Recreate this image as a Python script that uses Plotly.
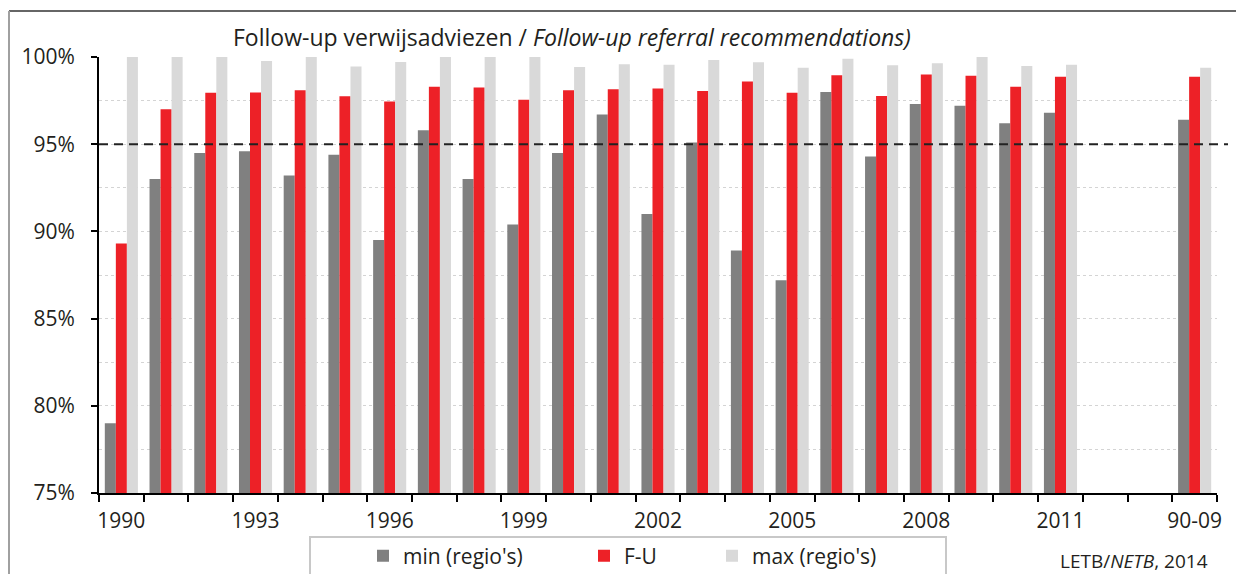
import plotly.graph_objects as go

categories = [str(y) for y in range(1990, 2014)] + ["90-09"]
tick_labels = ["1990", "", "", "1993", "", "", "1996", "", "", "1999", "", "", "2002", "", "", "2005", "", "",
               "2008", "", "", "2011", "", "", "90-09"]
y_tick_values = [75, 80, 85, 90, 95, 100]
y_tick_labels = ["75%", "80%", "85%", "90%", "95%", "100%"]

min_regio = [79.0, 93.0, 94.5, 94.6, 93.2, 94.4, 89.5, 95.8, 93.0, 90.4, 94.5, 96.7, 91.0, 95.1,
             88.9, 87.2, 98.0, 94.3, 97.3, 97.2, 96.2, 96.8, None, None, 96.4]
fu = [89.3, 97.0, 97.95, 97.97, 98.1, 97.75, 97.45, 98.3, 98.25, 97.55, 98.1, 98.15, 98.2, 98.05,
      98.6, 97.95, 98.95, 97.77, 99.0, 98.93, 98.3, 98.87, None, None, 98.87]
max_regio = [100, 100, 100, 99.77, 100, 99.45, 99.72, 100, 100, 100, 99.42, 99.58, 99.55, 99.83,
             99.7, 99.38, 99.9, 99.52, 99.64, 100, 99.48, 99.55, None, None, 99.38]

series_names = ["min (regio's)", "F-U", "max (regio's)"]
series_colors = ["#808080", "#ED2127", "#D9D9D9"]

FONT = "Open Sans"
TXT = "#231F20"

fig = go.Figure()
for i, (name, vals, col) in enumerate(zip(series_names, [min_regio, fu, max_regio], series_colors)):
    fig.add_trace(go.Bar(
        x=categories, y=vals, name=name, showlegend=True,
        marker=dict(color=col, line=dict(width=0)),
        legend="legend" if i == 0 else f"legend{i+1}",
    ))

# The page adds an 8px body margin; figure is sized to fill the rest of the window.
OFF = 8
W, H = 1244 - OFF, 574 - OFF
# plot area in window pixels
PL, PR, PT, PB = 99, 1217, 57, 493
L, R, T, B = PL - OFF, W - (PR - OFF), PT - OFF, H - (PB - OFF)
PW, PH = PR - PL, PB - PT
def px(x):  # window x -> paper
    return (x - PL) / PW
def py(y):  # window y -> paper
    return (PB - y) / PH

legend_common = dict(orientation="h", yanchor="middle", xanchor="left",
                     font=dict(family=FONT, size=21, color=TXT), bgcolor="rgba(0,0,0,0)",
                     borderwidth=0, visible=True)

fig.update_layout(
    width=W, height=H,
    margin=dict(l=L, r=R, t=T, b=B, autoexpand=False),
    paper_bgcolor="white", plot_bgcolor="white",
    barmode="group", bargap=0.26, bargroupgap=0,
    font=dict(family=FONT, color=TXT),
    showlegend=True,
    legend=dict(x=px(363), y=py(556), **legend_common),
    legend2=dict(x=px(584), y=py(556), **legend_common),
    legend3=dict(x=px(712), y=py(556), **legend_common),
    xaxis=dict(
        type="category", categoryorder="array", categoryarray=categories,
        tickmode="array", tickvals=categories, ticktext=tick_labels, tickangle=0,
        tickson="boundaries", ticks="outside", ticklen=7, tickwidth=1.5, tickcolor="black",
        showline=True, linecolor="black", linewidth=2, automargin=False,
        showgrid=False, tickfont=dict(family=FONT, size=21, color=TXT),
        ticklabelstandoff=8,
    ),
    yaxis=dict(
        range=[75, 100], tickmode="array", tickvals=y_tick_values, ticktext=y_tick_labels,
        ticks="outside", ticklen=6, tickwidth=1.5, tickcolor="black",
        showline=True, linecolor="black", linewidth=2, automargin=False,
        showgrid=True, gridcolor="#D4D4D4", griddash="dot", gridwidth=1,
        minor=dict(dtick=2.5, showgrid=True, gridcolor="#D4D4D4", griddash="dot", gridwidth=1, ticks=""),
        tickfont=dict(family=FONT, size=21, color=TXT),
        ticklabelstandoff=12, zeroline=False,
    ),
    shapes=[
        dict(type="line", xref="paper", yref="y", x0=0, x1=px(1228), y0=95, y1=95,
             line=dict(color="#222222", width=2, dash="9px,6px")),
        dict(type="rect", xref="paper", yref="paper", x0=px(310), x1=px(946), y0=py(537), y1=py(600),
             line=dict(color="#C8C8C8", width=2), fillcolor="rgba(0,0,0,0)", layer="below"),
        dict(type="line", xref="paper", yref="paper", x0=px(9), x1=px(1250), y0=py(11), y1=py(11),
             line=dict(color="#333333", width=1.5)),
        dict(type="line", xref="paper", yref="paper", x0=px(9), x1=px(9), y0=py(11), y1=py(600),
             line=dict(color="#A0A0A0", width=2)),
    ],
    annotations=[
        dict(text="Follow-up verwijsadviezen / <i>Follow-up referral recommendations)</i>",
             xref="paper", yref="paper", x=px(231), y=py(37), xanchor="left", yanchor="middle",
             showarrow=False, font=dict(family=FONT, size=23, color=TXT)),
        dict(text="LETB/<i>NETB</i>, 2014",
             xref="paper", yref="paper", x=px(1210), y=py(561), xanchor="right", yanchor="middle",
             showarrow=False, font=dict(family=FONT, size=19, color=TXT)),
    ],
)

fig.write_html("out.html")
